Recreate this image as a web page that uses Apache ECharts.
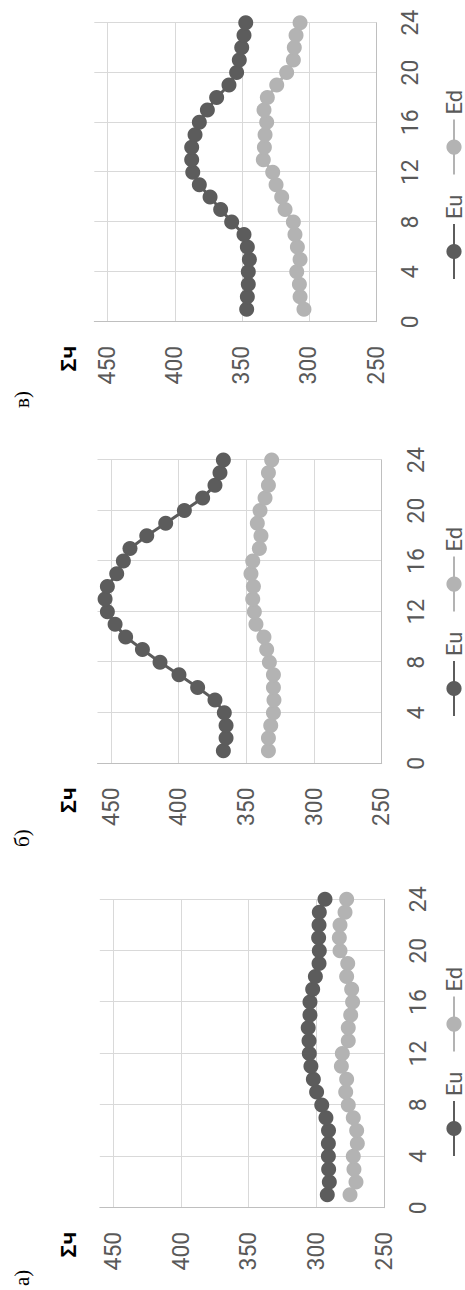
<!DOCTYPE html>
<html>
<head>
<meta charset="utf-8">
<script src="https://cdn.jsdelivr.net/npm/echarts@6/dist/echarts.min.js"></script>
<style>
html,body{margin:0;padding:0;background:#fff;overflow:hidden;width:465px;height:1290px;}
#wrap{position:absolute;left:0;top:0;width:1290px;height:465px;transform-origin:0 0;transform:translateY(1290px) rotate(-90deg);}
#chart{width:1290px;height:465px;}
</style>
</head>
<body>
<div id="wrap"><div id="chart"></div></div>
<script>
// ---- data ----
const hours = [1,2,3,4,5,6,7,8,9,10,11,12,13,14,15,16,17,18,19,20,21,22,23,24];
const seriesNames = ['Eu', 'Ed'];
const panelTitles = ['а)', 'б)', 'в)'];
const axisName = 'Σч';
const valueTicks = [250, 300, 350, 400, 450];
const hourTicks = [0, 4, 8, 12, 16, 20, 24];

const euA = [291.9,290.4,290.9,291.1,291.1,291.0,292.9,296.0,299.8,302.2,304.0,305.2,305.4,306.0,304.7,304.7,302.7,300.7,298.0,297.8,298.3,298.0,297.8,293.6];
const edA = [275.1,270.7,272.2,272.7,269.7,270.2,272.7,276.4,278.3,277.6,281.5,280.8,276.4,276.4,274.6,273.2,273.9,277.6,276.8,282.5,283.0,282.5,278.8,277.6];
const euB = [367.0,365.0,365.0,366.3,373.2,386.0,399.8,413.8,426.8,439.2,447.0,452.7,454.4,452.7,445.8,440.9,436.0,423.6,409.6,395.8,382.3,373.2,369.5,367.0];
const edB = [333.7,333.7,332.0,330.0,329.6,330.0,330.0,333.0,335.0,337.0,342.9,344.1,345.3,344.8,346.6,345.3,340.4,339.2,341.9,339.9,336.2,333.7,333.7,331.3];
const euC = [346.4,345.9,345.2,345.2,344.4,345.9,348.4,357.6,365.8,373.7,381.7,386.6,387.4,387.4,384.9,381.7,375.7,368.8,359.6,353.9,351.9,350.1,348.4,347.1];
const edC = [303.7,306.6,307.1,309.1,306.6,308.6,310.4,311.6,317.8,320.3,324.5,327.0,334.0,333.2,332.7,331.5,333.5,331.0,324.0,316.6,311.6,310.9,309.6,306.6];

const panels = [[euA, edA], [euB, edB], [euC, edC]];

// ---- layout / style ----
const grids = [
  {left: 82.3, width: 308.4, top: 99.8, height: 284.2},
  {left: 526.7, width: 303.3, top: 97.5, height: 284.2},
  {left: 968.3, width: 299, top: 94.3, height: 281.7}
];
const legendLefts = [128, 568, 1005];
const titleLefts = [4, 443, 882];
const colors = ['#5c5c5c', '#b3b3b3'];
const labelColor = '#595959';
const fontFam = 'Roboto, "Liberation Sans", sans-serif';

const chart = echarts.init(document.getElementById('chart'), null, {renderer: 'svg', width: 1290, height: 465});

const option = {
  animation: false,
  backgroundColor: '#fff',
  grid: grids.map(g => ({left: g.left, width: g.width, top: g.top, height: g.height, containLabel: false, outerBoundsMode: 'none'})),
  xAxis: grids.map((g, i) => ({
    type: 'value', gridIndex: i, min: hourTicks[0], max: hourTicks[hourTicks.length - 1], interval: 4,
    axisLine: {show: true, lineStyle: {color: '#bfbfbf', width: 1}},
    axisTick: {show: false},
    axisLabel: {show: true, color: labelColor, fontSize: 23, fontFamily: fontFam, margin: 23, showMinLabel: true, showMaxLabel: true},
    splitLine: {show: true, showMinLine: false, lineStyle: {color: '#d9d9d9', width: 1}}
  })),
  yAxis: grids.map((g, i) => ({
    type: 'value', gridIndex: i, min: valueTicks[0], max: 460, interval: 50,
    axisLine: {show: true, lineStyle: {color: '#bfbfbf', width: 1}},
    axisTick: {show: false},
    axisLabel: {show: true, color: labelColor, fontSize: 23, fontFamily: fontFam, margin: 24,
      formatter: v => (valueTicks.indexOf(v) >= 0 ? String(v) : '')},
    splitLine: {show: true, showMaxLine: false, lineStyle: {color: '#d9d9d9', width: 1}}
  })),
  legend: legendLefts.map(l => ({
    left: l, top: 437, orient: 'horizontal', data: seriesNames,
    itemWidth: 55, itemHeight: 19, itemGap: 19,
    textStyle: {color: labelColor, fontSize: 22, fontFamily: fontFam, lineHeight: 24},
    selectedMode: false
  })),
  graphic: [].concat(
    panelTitles.map((t, i) => ({
      type: 'text', left: titleLefts[i], top: 11, silent: true,
      style: {text: t, fill: '#000', font: '21px "Liberation Serif", "Times New Roman", serif'}
    })),
    grids.map(g => ({
      type: 'text', silent: true, x: g.left - 24, y: 68,
      style: {text: axisName, fill: '#000', font: 'bold 22px "Liberation Sans", Arial, sans-serif', align: 'right', verticalAlign: 'middle'}
    }))
  ),
  series: []
};

panels.forEach((pair, i) => {
  pair.forEach((arr, k) => {
    option.series.push({
      name: seriesNames[k], type: 'line', xAxisIndex: i, yAxisIndex: i,
      data: hours.map((h, j) => [h, arr[j]]),
      symbol: 'circle', symbolSize: 15, showSymbol: true,
      lineStyle: {color: colors[k], width: 3},
      itemStyle: {color: colors[k]},
      emphasis: {disabled: true},
      z: 3
    });
  });
});

chart.setOption(option);
</script>
</body>
</html>
